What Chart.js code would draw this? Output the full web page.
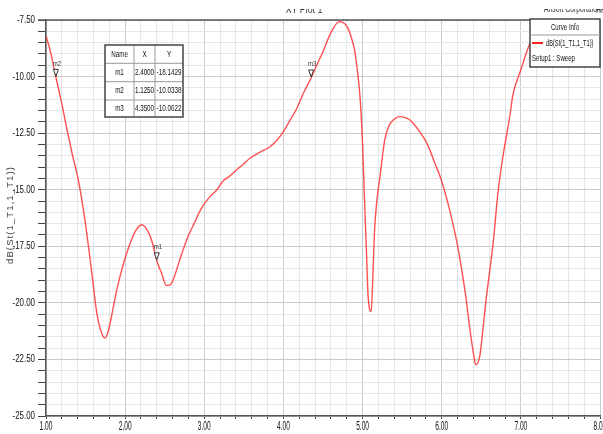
<!DOCTYPE html>
<html>
<head>
<meta charset="utf-8">
<script src="https://cdn.jsdelivr.net/npm/chart.js@4/dist/chart.umd.min.js"></script>
<style>
  html, body { margin: 0; padding: 0; background: #ffffff; }
  #wrap { width: 603px; height: 434px; position: relative; }
</style>
</head>
<body>
<div id="wrap"><canvas id="c" width="603" height="434"></canvas></div>
<script>
// ---- data ----
const freqGHz = [1.00,1.06,1.125,1.20,1.26,1.33,1.41,1.49,1.58,1.64,1.69,1.745,1.79,1.85,1.90,1.96,2.02,2.12,2.21,2.29,2.34,2.40,2.46,2.52,2.57,2.61,2.69,2.78,2.87,2.96,3.06,3.16,3.24,3.32,3.40,3.50,3.58,3.70,3.83,3.92,4.00,4.08,4.17,4.25,4.35,4.42,4.50,4.58,4.63,4.67,4.71,4.75,4.79,4.83,4.86,4.90,4.94,4.97,5.00,5.02,5.05,5.07,5.11,5.13,5.15,5.18,5.22,5.28,5.33,5.37,5.42,5.47,5.53,5.60,5.66,5.72,5.79,5.85,5.91,5.98,6.04,6.10,6.16,6.21,6.26,6.31,6.35,6.40,6.43,6.48,6.52,6.56,6.61,6.65,6.71,6.78,6.86,6.90,7.00,7.09,7.20,7.30,7.50,7.80,8.00];
const s11dB = [-8.20,-8.95,-10.03,-11.2,-12.25,-13.4,-14.6,-16.3,-18.7,-20.4,-21.2,-21.56,-21.2,-20.2,-19.35,-18.5,-17.8,-16.9,-16.55,-16.85,-17.3,-18.14,-18.69,-19.23,-19.2,-18.95,-18.1,-17.2,-16.5,-15.85,-15.35,-15.0,-14.6,-14.4,-14.15,-13.85,-13.6,-13.35,-13.1,-12.8,-12.43,-11.95,-11.4,-10.75,-10.06,-9.5,-8.9,-8.2,-7.87,-7.66,-7.57,-7.6,-7.72,-7.98,-8.3,-8.85,-9.9,-11.0,-13.0,-15.0,-17.8,-19.72,-20.38,-18.8,-16.9,-15.5,-14.42,-12.8,-12.2,-11.99,-11.83,-11.77,-11.8,-11.92,-12.15,-12.43,-12.8,-13.24,-13.8,-14.42,-15.1,-15.89,-16.8,-17.66,-18.7,-19.87,-21.0,-22.22,-22.74,-22.37,-21.2,-19.87,-18.5,-17.36,-15.15,-13.39,-11.77,-10.8,-9.7,-8.75,-7.9,-7.6,-7.7,-8.2,-8.6];

const markerNames = ["m1","m2","m3"];
const markerX = [2.4000, 1.1250, 4.3500];
const markerY = [-18.1429, -10.0338, -10.0622];

const seriesName = "dB(St(1_T1,1_T1))";
const setupName = "Setup1 : Sweep";
const plotTitle = "XY Plot 1";
const yAxisTitle = "dB(St(1_T1,1_T1))";

const xMin = 1.00, xMax = 8.00, xStep = 0.2, xMajor = 1.0;
const yMin = -25.00, yMax = -7.50, yStep = 0.5, yMajor = 2.5;

// ---- chart ----
const FONT = "'Liberation Sans', Arial, sans-serif";
const isMult = (v, m) => Math.abs(v / m - Math.round(v / m)) < 1e-6;

function ntext(ctx, s, x, y, size, sx, align, baseline, color) {
  ctx.save();
  ctx.translate(x, y);
  ctx.scale(sx, 1);
  ctx.font = size + "px " + FONT;
  ctx.textAlign = align;
  ctx.textBaseline = baseline;
  ctx.fillStyle = color || '#222';
  ctx.fillText(s, 0, 0);
  ctx.restore();
}

const overlay = {
  id: 'overlay',
  afterDraw(chart) {
    const ctx = chart.ctx;
    const xs = chart.scales.x, ys = chart.scales.y;
    const a = chart.chartArea;
    ctx.save();
    // frame top border
    ctx.strokeStyle = '#555';
    ctx.lineWidth = 1.5;
    ctx.beginPath();
    ctx.moveTo(a.left - 8, a.top);
    ctx.lineTo(a.right, a.top);
    ctx.stroke();

    // tick labels (narrow)
    xs.ticks.forEach((t) => {
      if (!t.label) return;
      ntext(ctx, t.label, xs.getPixelForValue(t.value), 427, 12, 0.55, 'center', 'middle', '#111');
    });
    ys.ticks.forEach((t) => {
      if (!t.label) return;
      ntext(ctx, t.label, 35, ys.getPixelForValue(t.value), 11, 0.72, 'right', 'middle', '#111');
    });

    // y axis title
    ctx.save();
    ctx.translate(10, 215);
    ctx.rotate(-Math.PI / 2);
    ctx.font = "9.5px " + FONT;
    ctx.letterSpacing = '1.1px';
    ctx.textAlign = 'center'; ctx.textBaseline = 'middle';
    ctx.fillStyle = '#444';
    ctx.fillText(yAxisTitle, 0, 0);
    ctx.restore();

    // clipped title texts at top
    ctx.save();
    ctx.beginPath(); ctx.rect(0, 9, 603, 10); ctx.clip();
    ntext(ctx, plotTitle, 304, 13, 11, 0.8, 'center', 'alphabetic', '#333');
    ntext(ctx, "Ansoft Corporation", 544, 12, 11, 0.62, 'left', 'alphabetic', '#333');
    ntext(ctx, "HFSSDesign1", 596, 13, 11, 0.62, 'left', 'alphabetic', '#333');
    ctx.restore();

    // markers
    for (let i = 0; i < markerNames.length; i++) {
      const px = xs.getPixelForValue(markerX[i]);
      const py = ys.getPixelForValue(markerY[i]);
      ctx.fillStyle = '#fff';
      ctx.strokeStyle = '#333';
      ctx.lineWidth = 1;
      ctx.beginPath();
      ctx.moveTo(px - 2.5, py - 8);
      ctx.lineTo(px + 2.5, py - 8);
      ctx.lineTo(px, py - 1);
      ctx.closePath();
      ctx.fill(); ctx.stroke();
      ntext(ctx, markerNames[i], px + 1, py - 14, 8, 0.75, 'center', 'middle', '#333');
    }

    // marker table
    const tL = 105, tR = 183, tT = 45, tB = 117;
    const cols = [tL, 134, 155, tR];
    const rows = [tT, 63.3, 81.7, 100, tB];
    ctx.fillStyle = '#fff';
    ctx.fillRect(tL, tT, tR - tL, tB - tT);
    ctx.strokeStyle = '#999';
    ctx.lineWidth = 1;
    for (let i = 1; i < cols.length - 1; i++) {
      ctx.beginPath(); ctx.moveTo(cols[i], tT); ctx.lineTo(cols[i], tB); ctx.stroke();
    }
    for (let i = 1; i < rows.length - 1; i++) {
      ctx.beginPath(); ctx.moveTo(tL, rows[i]); ctx.lineTo(tR, rows[i]); ctx.stroke();
    }
    ctx.strokeStyle = '#444';
    ctx.lineWidth = 1.5;
    ctx.strokeRect(tL, tT, tR - tL, tB - tT);
    const header = ["Name", "X", "Y"];
    for (let c = 0; c < 3; c++) ntext(ctx, header[c], (cols[c] + cols[c+1]) / 2, (rows[0] + rows[1]) / 2, 9.5, 0.66, 'center', 'middle', '#111');
    for (let r = 0; r < markerNames.length; r++) {
      const cy = (rows[r+1] + rows[r+2]) / 2;
      ntext(ctx, markerNames[r], (cols[0] + cols[1]) / 2, cy, 9.5, 0.66, 'center', 'middle', '#111');
      ntext(ctx, markerX[r].toFixed(4), (cols[1] + cols[2]) / 2, cy, 9.5, 0.66, 'center', 'middle', '#111');
      ntext(ctx, markerY[r].toFixed(4), (cols[2] + cols[3]) / 2, cy, 9.5, 0.66, 'center', 'middle', '#111');
    }

    // curve info legend
    const lL = 530, lR = 600, lT = 19, lB = 67;
    ctx.fillStyle = '#fff';
    ctx.fillRect(lL, lT, lR - lL, lB - lT);
    ctx.strokeStyle = '#444';
    ctx.lineWidth = 1.5;
    ctx.strokeRect(lL, lT, lR - lL, lB - lT);
    ctx.strokeStyle = '#999';
    ctx.lineWidth = 1;
    ctx.beginPath(); ctx.moveTo(lL, 35); ctx.lineTo(lR, 35); ctx.stroke();
    ntext(ctx, "Curve Info", (lL + lR) / 2, 27, 9.5, 0.64, 'center', 'middle', '#111');
    ctx.strokeStyle = '#ff2020';
    ctx.lineWidth = 2;
    ctx.beginPath(); ctx.moveTo(532, 43); ctx.lineTo(543, 43); ctx.stroke();
    ntext(ctx, seriesName, 546, 43, 9.5, 0.6, 'left', 'middle', '#111');
    ntext(ctx, setupName, 532, 58, 9.5, 0.64, 'left', 'middle', '#111');
    ctx.restore();
  }
};

new Chart(document.getElementById('c'), {
  type: 'scatter',
  data: {
    datasets: [{
      label: seriesName,
      data: freqGHz.map((f, i) => ({ x: f, y: s11dB[i] })),
      showLine: true,
      borderColor: 'rgba(255,50,50,0.85)',
      borderWidth: 1.4,
      pointRadius: 0,
      cubicInterpolationMode: 'monotone',
      fill: false
    }]
  },
  options: {
    responsive: false,
    animation: false,
    events: [],
    layout: { padding: { top: 20, right: 3, left: 0, bottom: 0 } },
    plugins: { legend: { display: false }, tooltip: { enabled: false }, title: { display: false } },
    scales: {
      x: {
        type: 'linear',
        min: xMin, max: xMax,
        afterFit(s) { s.height = 18; s.paddingLeft = 0; s.paddingRight = 0; },
        ticks: {
          stepSize: xStep,
          autoSkip: false,
          maxRotation: 0,
          padding: 1,
          color: 'rgba(0,0,0,0)',
          font: { family: FONT, size: 10 },
          callback: (v) => isMult(v, xMajor) ? Number(v).toFixed(2) : ''
        },
        grid: {
          color: (c) => isMult(c.tick.value, xMajor) ? '#cbcbcb' : '#e6e6e6',
          lineWidth: 1,
          tickColor: '#444',
          tickLength: 3,
          drawTicks: true
        },
        border: { color: '#555', width: 1.5 }
      },
      y: {
        type: 'linear',
        min: yMin, max: yMax,
        afterFit(s) { s.width = 46; s.paddingTop = 0; s.paddingBottom = 0; },
        ticks: {
          stepSize: yStep,
          autoSkip: false,
          padding: 2,
          color: 'rgba(0,0,0,0)',
          font: { family: FONT, size: 10 },
          callback: (v) => isMult(v, yMajor) ? Number(v).toFixed(2) : ''
        },
        grid: {
          color: (c) => isMult(c.tick.value, yMajor) ? '#cbcbcb' : '#e6e6e6',
          lineWidth: 1,
          tickColor: '#444',
          tickLength: 8,
          drawTicks: true
        },
        border: { color: '#555', width: 1.5 }
      }
    }
  },
  plugins: [overlay]
});
</script>
</body>
</html>
